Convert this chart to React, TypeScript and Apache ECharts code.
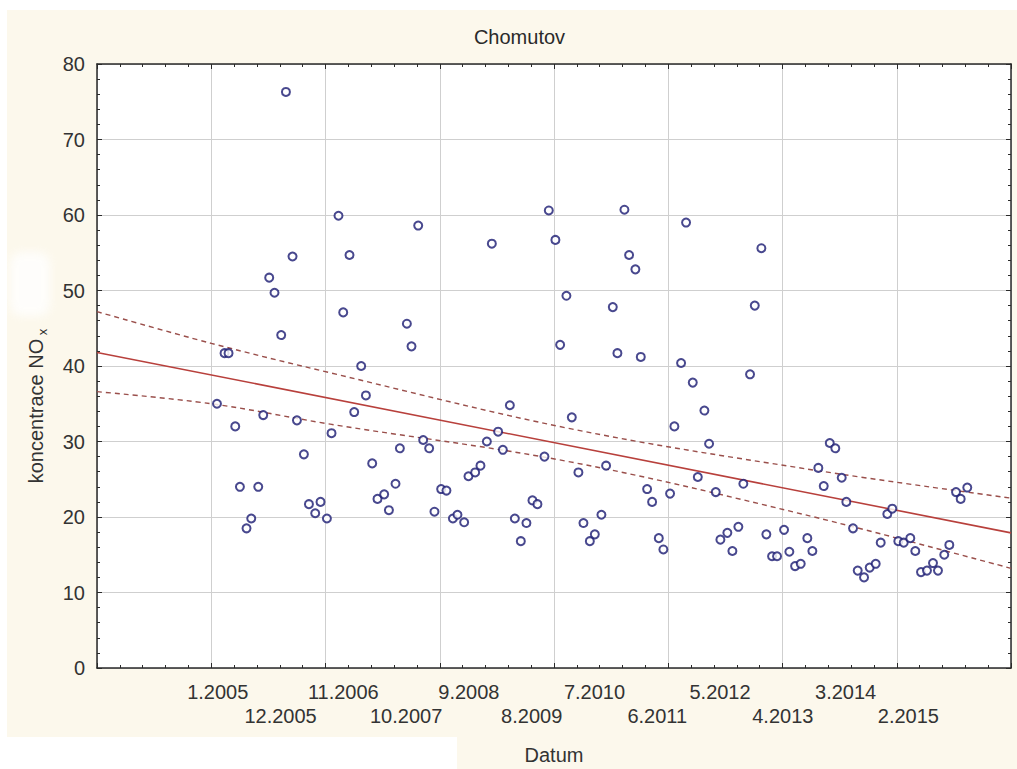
import React, { useEffect, useRef } from "react";
import * as echarts from "echarts";

// ---- data ----
// x: months since 1.2005 (0 = 1.2005), y: NOx concentration
const monthIndex = [
  1.1, 2.56, 3.33, 4.62, 5.52, 6.79, 7.7, 9.05, 10.01, 11.16,
  12.18, 13.47, 14.38, 15.65, 16.5, 17.84, 18.81, 20.02, 21.04, 22.27,
  23.16, 24.5, 25.41, 26.62, 27.53, 28.87, 29.78, 30.99, 32.01, 33.3,
  34.21, 35.48, 36.32, 37.67, 38.56, 39.85, 40.81, 41.96, 42.98, 44.27,
  45.29, 46.53, 47.41, 48.7, 49.53, 50.82, 51.84, 53.07, 54.03, 55.24,
  56.15, 57.5, 58.46, 59.61, 60.69, 61.85, 62.81, 64.16, 65.0, 66.27,
  67.18, 68.39, 69.43, 70.7, 71.67, 72.9, 73.86, 75.13, 76.03, 77.32,
  78.21, 79.56, 80.46, 81.67, 82.71, 83.93, 84.89, 86.18, 87.06, 88.35,
  89.18, 90.47, 91.43, 92.72, 93.69, 94.96, 95.86, 97.15, 98.04, 99.38,
  100.35, 101.5, 102.46, 103.75, 104.66, 105.93, 106.89, 107.99, 108.95, 110.3,
  111.32, 112.42, 113.51, 114.78, 115.75, 116.9, 117.94, 119.1, 120.17, 121.4,
  122.29, 123.58, 124.48, 125.7, 126.79, 127.95, 128.91, 130.18, 131.14, 132.3,
  133.34, 134.61, 135.57, 136.67, 137.82, 138.98, 139.94, 141.15, 142.12, 143.41,
  144.31, 145.58,
];
const noxValues = [
  35.0, 41.7, 41.7, 32.0, 24.0, 18.5, 19.8, 24.0, 33.5, 51.7,
  49.7, 44.1, 76.3, 54.5, 32.8, 28.3, 21.7, 20.5, 22.0, 19.8,
  31.1, 59.9, 47.1, 54.7, 33.9, 40.0, 36.1, 27.1, 22.4, 23.0,
  20.9, 24.4, 29.1, 45.6, 42.6, 58.6, 30.2, 29.1, 20.7, 23.7,
  23.5, 19.8, 20.3, 19.3, 25.4, 25.9, 26.8, 30.0, 56.2, 31.3,
  28.9, 34.8, 19.8, 16.8, 19.2, 22.2, 21.7, 28.0, 60.6, 56.7,
  42.8, 49.3, 33.2, 25.9, 19.2, 16.8, 17.7, 20.3, 26.8, 47.8,
  41.7, 60.7, 54.7, 52.8, 41.2, 23.7, 22.0, 17.2, 15.7, 23.1,
  32.0, 40.4, 59.0, 37.8, 25.3, 34.1, 29.7, 23.3, 17.0, 17.9,
  15.5, 18.7, 24.4, 38.9, 48.0, 55.6, 17.7, 14.8, 14.8, 18.3,
  15.4, 13.5, 13.8, 17.2, 15.5, 26.5, 24.1, 29.8, 29.1, 25.2,
  22.0, 18.5, 12.9, 12.0, 13.3, 13.8, 16.6, 20.4, 21.1, 16.8,
  16.6, 17.2, 15.5, 12.7, 12.9, 13.9, 12.9, 15.0, 16.3, 23.3,
  22.4, 23.9,
];

// regression line and 95% confidence band
const fitMonths = [-22, 154];
const fitValues = [41.8, 17.9];
const bandMonths = [-22, 0, 22.9, 69.1, 114.3, 154];
const upperBand = [47.2, 43.0, 39.1, 31.7, 26.4, 22.5];
const lowerBand = [36.6, 35.0, 32.3, 27.3, 20.3, 13.2];

// x axis range (months) and staggered tick labels with their positions
const xMin = -22;
const xMax = 154;
const xInterval = 22;
const tickLabels = [
  "1.2005", "12.2005", "11.2006", "10.2007", "9.2008", "8.2009",
  "7.2010", "6.2011", "5.2012", "4.2013", "3.2014", "2.2015",
];
const tickLabelMonths = [
  1.25, 13.34, 25.43, 37.52, 49.61, 61.7,
  73.79, 85.88, 97.97, 110.06, 122.15, 134.24,
];

const titleText = "Chomutov";
const xTitle = "Datum";
const yTitle = "koncentrace NO";
const ySub = "x";

const FONT = "'Liberation Sans', Arial, sans-serif";
const TXT = "#333";

export default function App() {
  const ref = useRef<HTMLDivElement>(null);

  useEffect(() => {
    if (!ref.current) return;
    const chart = echarts.init(ref.current, undefined, { renderer: "svg" });

    const pairs = (xs: number[], ys: number[]) => xs.map((x, i) => [x, ys[i]]);

    const gridLine = { show: true, lineStyle: { color: "#cfcfcf", width: 1 } };
    const axLine = { show: true, onZero: false, lineStyle: { color: "#2a2a2a", width: 1.5 } };
    const tick = { show: true, inside: true, length: 5, lineStyle: { color: "#2a2a2a" } };
    const minor = { show: true, splitNumber: 5, length: 3, lineStyle: { color: "#2a2a2a" } };

    // empty labels at both ends so the staggered labels are never hidden by min/max overlap checks
    const labelValues = [xMin, ...tickLabelMonths, xMax];

    chart.setOption({
      animation: false,
      backgroundColor: "transparent",
      textStyle: { fontFamily: FONT },
      grid: {
        left: 97,
        right: 6,
        top: 64,
        bottom: 101,
        show: true,
        backgroundColor: "#ffffff",
        borderWidth: 0,
        outerBoundsMode: "none",
        containLabel: false,
      },
      xAxis: [
        {
          type: "value",
          min: xMin,
          max: xMax,
          interval: xInterval,
          position: "bottom",
          axisLine: axLine,
          axisTick: tick,
          minorTick: minor,
          splitLine: gridLine,
          axisLabel: {
            show: true,
            customValues: labelValues,
            margin: 11.5,
            fontSize: 20,
            lineHeight: 24,
            color: TXT,
            fontFamily: FONT,
            hideOverlap: false,
            showMinLabel: true,
            showMaxLabel: true,
            formatter: (v: number) => {
              let k = -1;
              let best = 1e9;
              tickLabelMonths.forEach((m, i) => {
                const d = Math.abs(m - v);
                if (d < best) { best = d; k = i; }
              });
              if (k < 0 || best > 0.5) return "";
              return k % 2 === 0 ? tickLabels[k] : "\n" + tickLabels[k];
            },
          },
        },
        {
          type: "value",
          min: xMin,
          max: xMax,
          interval: xInterval,
          position: "top",
          axisLine: axLine,
          axisTick: tick,
          minorTick: minor,
          splitLine: { show: false },
          axisLabel: { show: false },
        },
      ],
      yAxis: [
        {
          type: "value",
          min: 0,
          max: 80,
          interval: 10,
          position: "left",
          axisLine: axLine,
          axisTick: tick,
          minorTick: minor,
          splitLine: gridLine,
          axisLabel: { show: true, margin: 12, fontSize: 20, color: TXT, fontFamily: FONT },
        },
        {
          type: "value",
          min: 0,
          max: 80,
          interval: 10,
          position: "right",
          axisLine: axLine,
          axisTick: tick,
          minorTick: minor,
          splitLine: { show: false },
          axisLabel: { show: false },
        },
      ],
      graphic: [
        {
          type: "text",
          x: 519.5,
          y: 37,
          style: {
            text: titleText,
            fontSize: 20,
            fontFamily: FONT,
            fill: "#2a2a2a",
            textAlign: "center",
            textVerticalAlign: "middle",
          },
        },
        {
          type: "text",
          x: 554,
          y: 755,
          style: {
            text: xTitle,
            fontSize: 20,
            fontFamily: FONT,
            fill: TXT,
            textAlign: "center",
            textVerticalAlign: "middle",
          },
        },
        {
          type: "text",
          x: 36,
          y: 411,
          rotation: Math.PI / 2,
          style: {
            text: yTitle,
            fontSize: 20,
            fontFamily: FONT,
            fill: TXT,
            textAlign: "center",
            textVerticalAlign: "middle",
          },
        },
        {
          type: "text",
          x: 42,
          y: 332,
          rotation: Math.PI / 2,
          style: {
            text: ySub,
            fontSize: 13,
            fontFamily: FONT,
            fill: TXT,
            textAlign: "center",
            textVerticalAlign: "middle",
          },
        },
      ],
      series: [
        {
          type: "line",
          data: pairs(bandMonths, upperBand),
          smooth: 0.35,
          showSymbol: false,
          silent: true,
          lineStyle: { color: "#9a4f4b", width: 1.4, type: [5, 4] },
          z: 3,
        },
        {
          type: "line",
          data: pairs(bandMonths, lowerBand),
          smooth: 0.35,
          showSymbol: false,
          silent: true,
          lineStyle: { color: "#9a4f4b", width: 1.4, type: [5, 4] },
          z: 3,
        },
        {
          type: "line",
          data: pairs(fitMonths, fitValues),
          showSymbol: false,
          silent: true,
          lineStyle: { color: "#b8403c", width: 1.6 },
          z: 3,
        },
        {
          type: "scatter",
          data: pairs(monthIndex, noxValues),
          symbol: "circle",
          symbolSize: 8,
          itemStyle: { color: "#ffffff", borderColor: "#1a1a72", borderWidth: 2 },
          z: 4,
        },
      ],
    });

    return () => chart.dispose();
  }, []);

  return (
    <div
      style={{
        position: "absolute",
        left: 0,
        top: 0,
        width: 1017,
        height: 769,
        background: "#ffffff",
        overflow: "hidden",
      }}
    >
      <div style={{ position: "absolute", left: 7, top: 10, right: 0, bottom: 0, background: "#fcf8ec" }} />
      <div style={{ position: "absolute", left: 0, top: 737, width: 457, height: 32, background: "#ffffff" }} />
      <div
        style={{
          position: "absolute",
          left: 10,
          top: 252,
          width: 40,
          height: 64,
          background: "#ffffff",
          borderRadius: 12,
          filter: "blur(4px)",
          opacity: 0.8,
        }}
      />
      <div ref={ref} style={{ position: "absolute", left: 0, top: 0, width: 1017, height: 769 }} />
    </div>
  );
}
